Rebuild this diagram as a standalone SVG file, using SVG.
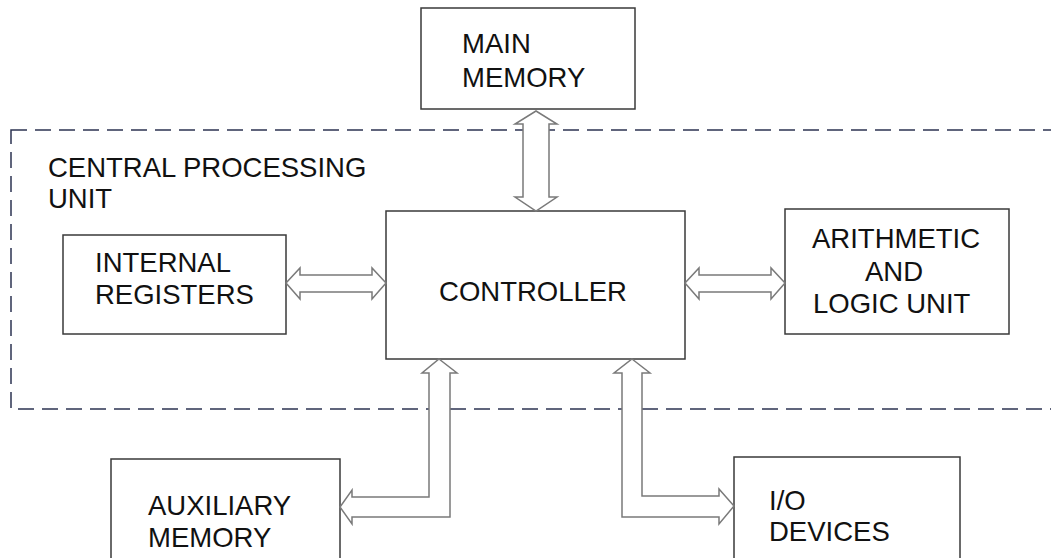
<svg xmlns="http://www.w3.org/2000/svg" width="1051" height="558" viewBox="0 0 1051 558">
<style>
.box{fill:#fff;stroke:#3a3a3a;stroke-width:1.5}
.arr{fill:#fff;stroke:#7a7a7a;stroke-width:1.5;stroke-linejoin:miter}
.cpu{fill:none;stroke:#2c3352;stroke-width:1.5;stroke-dasharray:16 8}
text{font-family:"Liberation Sans",Arial,sans-serif;font-size:27.5px;fill:#111}
</style>
<rect width="1051" height="558" fill="#fff"/>
<g id="cpu">
<rect class="cpu" x="11" y="130" width="1060" height="279"/>
<text x="48" y="177">CENTRAL PROCESSING</text>
<text x="48" y="208">UNIT</text>
</g>
<g id="main-memory">
<rect class="box" x="421" y="8" width="214" height="101"/>
<text x="462" y="53">MAIN</text>
<text x="462" y="87">MEMORY</text>
</g>
<g id="controller">
<rect class="box" x="386" y="211" width="299" height="148"/>
<text x="533" y="301" text-anchor="middle">CONTROLLER</text>
</g>
<g id="internal-registers">
<rect class="box" x="63" y="235" width="223" height="99"/>
<text x="95" y="272">INTERNAL</text>
<text x="95" y="304">REGISTERS</text>
</g>
<g id="alu">
<rect class="box" x="785" y="209" width="224" height="125"/>
<text x="812" y="248">ARITHMETIC</text>
<text x="894" y="281" text-anchor="middle">AND</text>
<text x="813" y="313">LOGIC UNIT</text>
</g>
<g id="auxiliary-memory">
<rect class="box" x="111" y="459" width="229" height="120"/>
<text x="148" y="515">AUXILIARY</text>
<text x="148" y="547">MEMORY</text>
</g>
<g id="io-devices">
<rect class="box" x="734" y="457" width="226" height="120"/>
<text x="769" y="510">I/O</text>
<text x="769" y="541">DEVICES</text>
</g>
<g id="connectors">
<path class="arr" d="M536,111 L557,124 L549,124 L549,197 L557,197 L536,211 L515,197 L523,197 L523,124 L515,124 Z"/>
<path class="arr" d="M286,283 L300,268 L300,275 L372,275 L372,268 L386,283 L372,299 L372,292 L300,292 L300,299 Z"/>
<path class="arr" d="M685,283 L699,268 L699,275 L771,275 L771,268 L785,283 L771,299 L771,292 L699,292 L699,299 Z"/>
<path class="arr" d="M439,359 L457,373 L450,373 L450,517 L352,517 L352,524 L340,507 L352,490 L352,497 L429,497 L429,373 L422,373 Z"/>
<path class="arr" d="M632,359 L650,373 L642,373 L642,496 L719,496 L719,489 L734,506 L719,524 L719,517 L622,517 L622,373 L614,373 Z"/>
</g>
</svg>
